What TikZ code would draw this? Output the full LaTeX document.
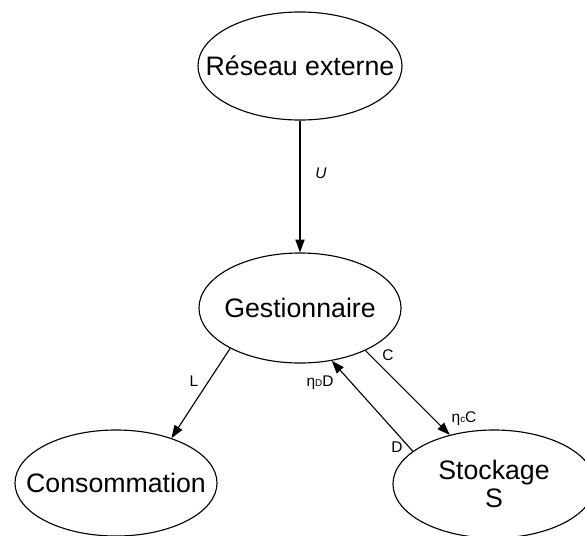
\documentclass[tikz,border=0pt]{standalone}
\usepackage{fontspec}
\setmainfont{Liberation Sans}
\usetikzlibrary{shapes.geometric}
\usetikzlibrary{arrows.meta}

\begin{document}
\begin{tikzpicture}[x=0.025cm, y=-0.025cm, >={Triangle[length=0.32cm, width=0.23cm]},
    etat/.style={draw, ellipse, line width=0.8pt, inner sep=0pt, minimum width=5.05cm, minimum height=2.7cm},
    nom/.style={align=center, inner sep=0pt, font=\fontsize{19}{20}\selectfont},
    flux/.style={anchor=base, inner sep=0pt, font=\fontsize{11}{13}\selectfont}]
    \clip (0,0) rectangle (585,535);
    \node[etat, minimum width=5.1cm, label={[nom]center:Réseau externe}] (reseau) at (300,66) {};
    \node[etat, minimum height=2.75cm, label={[nom]center:Gestionnaire}] (gest) at (300,308) {};
    \node[etat, minimum height=2.65cm, label={[nom]center:Consommation}] (cons) at (116,483) {};
    \node[etat, label={[nom]center:Stockage\\S}] (stock) at (494,484) {};
    \draw[->, line width=0.8pt] (reseau) -- (gest);
    \draw[->, line width=0.8pt] (gest.210) -- (cons.39);
    \draw[->, line width=0.8pt] (gest.-33) -- (stock.132);
    \draw[->, line width=0.8pt] (stock.158) -- (gest.-59);
    \node[flux] (u) at (321,178) {\itshape U};
    \node[flux] (l) at (194,386) {L};
    \node[flux] (c) at (388,360) {C};
    \node[flux] (etac) at (464,422) {η{\fontsize{7}{8}\selectfont c}C};
    \node[flux] (etad) at (320,386) {η{\fontsize{7}{8}\selectfont D}D};
    \node[flux] (d) at (397,452) {D};
\end{tikzpicture}
\end{document}
